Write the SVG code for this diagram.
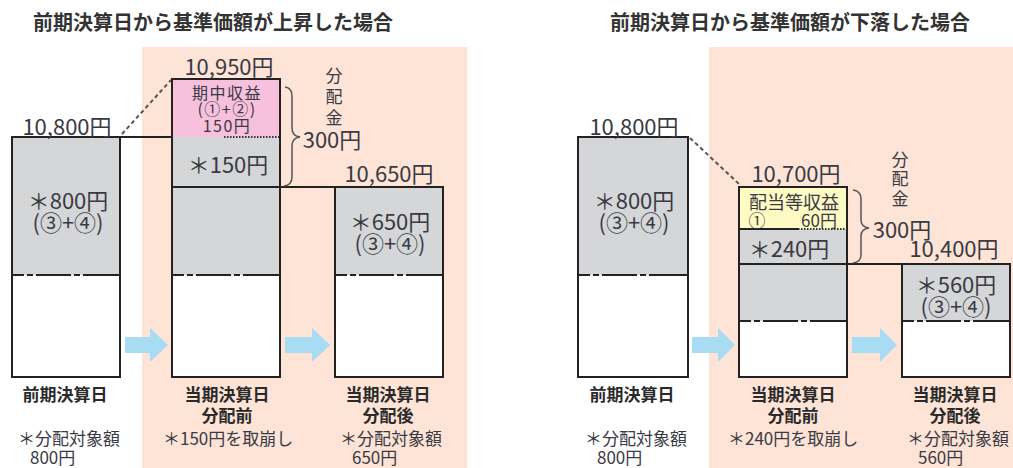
<svg xmlns="http://www.w3.org/2000/svg" width="1013" height="468" viewBox="0 0 1013 468">
<style>
text{font-family:"Noto Sans CJK JP","Noto Sans",sans-serif;fill:#3a3a44}
.title{font-size:20px;font-weight:bold;fill:#333}
.big{font-size:22px;text-anchor:middle;dominant-baseline:central}
.mid{font-size:17px;text-anchor:middle;dominant-baseline:central}
.sm{font-size:16px;text-anchor:middle;dominant-baseline:central;letter-spacing:1.5px}
.lab{font-size:17px;font-weight:bold;text-anchor:middle;dominant-baseline:central;fill:#2a2a2a}
.note{font-size:17px;dominant-baseline:central}
.box{stroke:#222;stroke-width:2;fill:none}
.gray{fill:#d5d6d8}
.white{fill:#fff}
.dd{stroke:#222;stroke-width:2;stroke-dasharray:12 3 6 3 35 3 6 3 60}
.dash{stroke:#555;stroke-width:2;stroke-dasharray:4 3;fill:none}
.dot{stroke:#333;stroke-width:2;stroke-dasharray:1.5 1.5}
.solid{stroke:#222;stroke-width:2}
.brace{stroke:#555;stroke-width:1.5;fill:none}
.arrow{fill:#a8dcf2}
.peach{fill:#fde4d6}
</style>
<rect width="1013" height="468" fill="#fff"/>
<rect class="peach" x="142" y="47" width="325" height="421"/>
<rect class="peach" x="709" y="47" width="304" height="421"/>
<text class="title" x="33" y="30">前期決算日から基準価額が上昇した場合</text>
<text class="title" x="610" y="30">前期決算日から基準価額が下落した場合</text>

<g id="connectors">
<line class="solid" x1="120" y1="137" x2="172" y2="137"/>
<line class="solid" x1="280" y1="187" x2="335" y2="187"/>
<line class="dash" x1="122" y1="134" x2="171" y2="80"/>
<path class="brace" d="M285,87 Q292,88 292,96 L292,128 Q292,136 300,137 Q292,138 292,146 L292,177 Q292,185 284,186"/>
<polygon class="arrow" points="125,337 150,337 150,328 168,345 150,362 150,353 125,353"/>
<polygon class="arrow" points="285,337 312,337 312,328 330,345 312,362 312,353 285,353"/>
<line class="solid" x1="847" y1="264" x2="902" y2="264"/>
<line class="dash" x1="690" y1="138" x2="739" y2="184"/>
<path class="brace" d="M853,190 Q861,191 861,199 L861,220 Q861,227 869,228 Q861,229 861,236 L861,255 Q861,262 853,263"/>
<polygon class="arrow" points="692,337 718,337 718,328 735,345 718,362 718,353 692,353"/>
<polygon class="arrow" points="852,337 880,337 880,328 897,345 880,362 880,353 852,353"/>
</g>

<g id="l-prev">
<rect class="gray" x="12" y="137" width="108" height="138"/>
<rect class="white" x="12" y="275" width="108" height="102"/>
<line class="dd" x1="12" y1="275" x2="120" y2="275"/>
<rect class="box" x="12" y="137" width="108" height="240"/>
<text class="big" x="67" y="125">10,800円</text>
<text class="big" x="68" y="199">＊800円</text>
<text class="big" x="68" y="221">(③+④)</text>
<text class="lab" x="65" y="393">前期決算日</text>
<text class="note" x="18" y="437">＊分配対象額</text>
<text class="note" x="30" y="456">800円</text>
</g>

<g id="l-before">
<rect fill="#f7c0dc" x="172" y="79" width="108" height="58"/>
<rect class="gray" x="172" y="137" width="108" height="138"/>
<rect class="white" x="172" y="275" width="108" height="102"/>
<line class="dot" x1="224" y1="137" x2="279" y2="137"/>
<line class="solid" x1="172" y1="187" x2="280" y2="187"/>
<line class="dd" x1="172" y1="275" x2="280" y2="275"/>
<rect class="box" x="172" y="79" width="108" height="298"/>
<text class="big" x="229" y="65">10,950円</text>
<text class="sm" x="227" y="92">期中収益</text>
<text class="sm" x="227" y="108">(①+②)</text>
<text class="sm" x="227" y="125">150円</text>
<text class="big" x="228" y="163">＊150円</text>
<text class="lab" x="227" y="393">当期決算日</text>
<text class="lab" x="227" y="414">分配前</text>
<text class="note" x="163" y="437">＊150円を取崩し</text>
</g>

<g id="l-dist">
<text class="mid" x="334" y="74">分</text>
<text class="mid" x="334" y="95">配</text>
<text class="mid" x="334" y="116">金</text>
<text class="big" x="332" y="138">300円</text>
</g>

<g id="l-after">
<rect class="gray" x="335" y="187" width="108" height="88"/>
<rect class="white" x="335" y="275" width="108" height="102"/>
<line class="dd" x1="335" y1="275" x2="443" y2="275"/>
<rect class="box" x="335" y="187" width="108" height="190"/>
<text class="big" x="389" y="172">10,650円</text>
<text class="big" x="390" y="220">＊650円</text>
<text class="big" x="390" y="242">(③+④)</text>
<text class="lab" x="388" y="393">当期決算日</text>
<text class="lab" x="388" y="414">分配後</text>
<text class="note" x="340" y="437">＊分配対象額</text>
<text class="note" x="352" y="456">650円</text>
</g>

<g id="r-prev">
<rect class="gray" x="578" y="137" width="110" height="138"/>
<rect class="white" x="578" y="275" width="110" height="102"/>
<line class="dd" x1="578" y1="275" x2="688" y2="275"/>
<rect class="box" x="578" y="137" width="110" height="240"/>
<text class="big" x="634" y="125">10,800円</text>
<text class="big" x="634" y="199">＊800円</text>
<text class="big" x="634" y="221">(③+④)</text>
<text class="lab" x="632" y="393">前期決算日</text>
<text class="note" x="585" y="437">＊分配対象額</text>
<text class="note" x="597" y="456">800円</text>
</g>

<g id="r-before">
<rect fill="#fdfac4" x="739" y="187" width="108" height="42"/>
<rect class="gray" x="739" y="229" width="108" height="92"/>
<rect class="white" x="739" y="321" width="108" height="56"/>
<line class="solid" x1="739" y1="229" x2="798" y2="229"/>
<line class="dot" x1="798" y1="229" x2="846" y2="229"/>
<line class="solid" x1="739" y1="264" x2="847" y2="264"/>
<line class="dd" x1="739" y1="321" x2="847" y2="321"/>
<rect class="box" x="739" y="187" width="108" height="190"/>
<text class="big" x="796" y="172">10,700円</text>
<text class="mid" x="794" y="201" style="font-size:18px">配当等収益</text>
<text class="mid" x="757" y="219">①</text>
<text class="mid" x="819" y="219">60円</text>
<text class="big" x="789" y="247">＊240円</text>
<text class="lab" x="793" y="393">当期決算日</text>
<text class="lab" x="793" y="414">分配前</text>
<text class="note" x="728" y="437">＊240円を取崩し</text>
</g>

<g id="r-dist">
<text class="mid" x="900" y="158">分</text>
<text class="mid" x="900" y="177">配</text>
<text class="mid" x="900" y="197">金</text>
<text class="big" x="902" y="228">300円</text>
</g>

<g id="r-after">
<rect class="gray" x="902" y="264" width="108" height="57"/>
<rect class="white" x="902" y="321" width="108" height="56"/>
<line class="dd" x1="902" y1="321" x2="1010" y2="321"/>
<rect class="box" x="902" y="264" width="108" height="113"/>
<text class="big" x="954" y="247">10,400円</text>
<text class="big" x="956" y="283">＊560円</text>
<text class="big" x="956" y="305">(③+④)</text>
<text class="lab" x="955" y="393">当期決算日</text>
<text class="lab" x="955" y="414">分配後</text>
<text class="note" x="907" y="437">＊分配対象額</text>
<text class="note" x="918" y="456">560円</text>
</g>
</svg>
